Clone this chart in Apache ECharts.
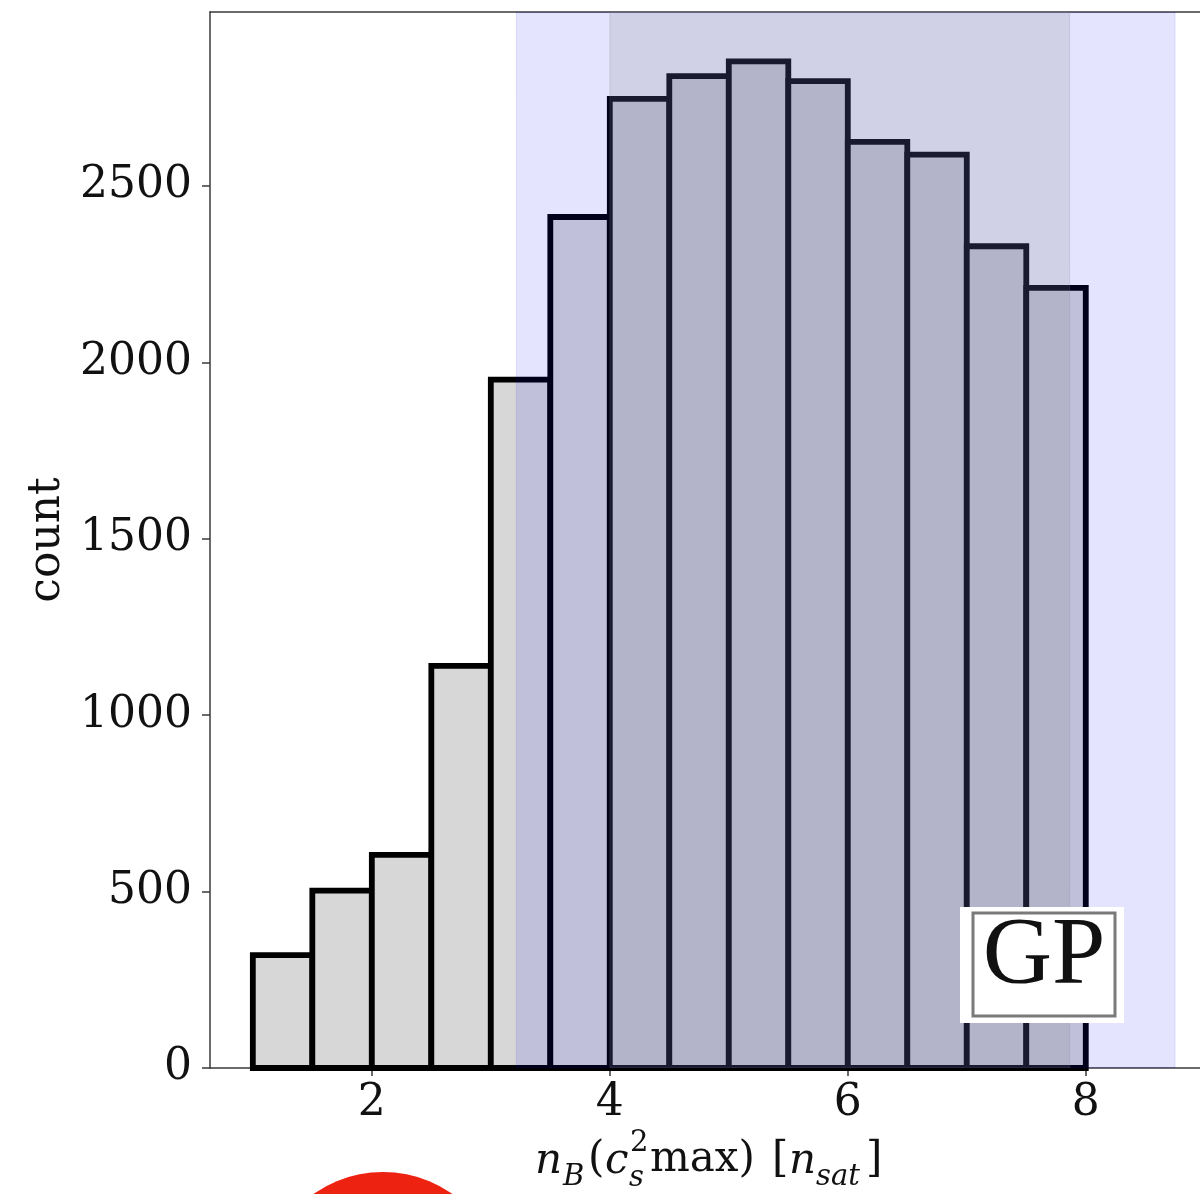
<!DOCTYPE html>
<html>
<head>
<meta charset="utf-8">
<script src="https://cdn.jsdelivr.net/npm/echarts@6/dist/echarts.min.js"></script>
<style>
  html, body { margin: 0; padding: 0; background: #ffffff; }
  #chart { width: 1200px; height: 1194px; }
</style>
</head>
<body>
<div id="chart"></div>
<script>
// Histogram of the density at which c_s^2 reaches its maximum (GP ensemble)
const binEdges = [1.0, 1.5, 2.0, 2.5, 3.0, 3.5, 4.0, 4.5, 5.0, 5.5, 6.0, 6.5, 7.0, 7.5, 8.0];
const counts = [320, 503, 604, 1140, 1951, 2412, 2747, 2811, 2853, 2797, 2625, 2589, 2329, 2211];

// credible intervals shaded over the histogram (outer and inner)
const outerBand = [3.215, 8.75];
const innerBand = [4.0, 7.865];

const xTicks = [2, 4, 6, 8];
const yTicks = [0, 500, 1000, 1500, 2000, 2500];

const xRange = [0.64, 8.96];
const yRange = [0, 2993];

const serif = 'DejaVu Serif';
const axisColor = '#3a3a3a';

const barData = counts.map((c, i) => [binEdges[i], binEdges[i + 1], c]);
const bandData = [
  [outerBand[0], outerBand[1], 'rgba(0,0,255,0.106)'],
  [innerBand[0], innerBand[1], 'rgba(128,128,132,0.2)']
];

const chart = echarts.init(document.getElementById('chart'), null, { renderer: 'canvas' });

const plainNumber = v => String(v);

function label(text, x, y, font) {
  return { type: 'text', z: 100, x: x, y: y, style: { text: text, font: font, fill: '#111', verticalAlign: 'middle' } };
}
const mainFont = '42px "DejaVu Serif"';
const mainItalic = 'italic 42px "DejaVu Serif"';
const smallFont = '29px "DejaVu Serif"';
const smallItalic = 'italic 29px "DejaVu Serif"';

const option = {
  animation: false,
  backgroundColor: '#ffffff',
  grid: { left: 210, top: 12, right: 0, bottom: 126, show: false },
  xAxis: [
    {
      type: 'value',
      min: xRange[0], max: xRange[1],
      axisLine: { show: true, onZero: false, lineStyle: { color: axisColor, width: 1.5 } },
      axisTick: { show: true, length: 8, customValues: xTicks, lineStyle: { color: axisColor, width: 1.5 } },
      axisLabel: { customValues: xTicks, formatter: plainNumber, color: '#111', fontFamily: serif, fontSize: 44, margin: 14 },
      splitLine: { show: false }
    },
    {
      // top frame line
      type: 'value',
      position: 'top',
      min: xRange[0], max: xRange[1],
      axisLine: { show: true, onZero: false, lineStyle: { color: axisColor, width: 1.5 } },
      axisTick: { show: false },
      axisLabel: { show: false },
      splitLine: { show: false }
    }
  ],
  yAxis: {
    type: 'value',
    min: yRange[0], max: yRange[1],
    name: 'count',
    nameLocation: 'middle',
    nameGap: 126,
    nameRotate: 90,
    nameTextStyle: { color: '#111', fontFamily: serif, fontSize: 44 },
    axisLine: { show: true, lineStyle: { color: axisColor, width: 1.5 } },
    axisTick: { show: true, length: 8, customValues: yTicks, lineStyle: { color: axisColor, width: 1.5 } },
    axisLabel: { customValues: yTicks, formatter: plainNumber, color: '#111', fontFamily: serif, fontSize: 44, margin: 18 },
    splitLine: { show: false }
  },
  series: [
    {
      name: 'histogram',
      type: 'custom',
      z: 2,
      encode: { x: [0, 1], y: 2 },
      data: barData,
      renderItem: function (params, api) {
        const p0 = api.coord([api.value(0), 0]);
        const p1 = api.coord([api.value(1), api.value(2)]);
        return {
          type: 'rect',
          shape: { x: p0[0], y: p1[1], width: p1[0] - p0[0], height: p0[1] - p1[1] },
          style: { fill: '#d7d7d7', stroke: '#000000', lineWidth: 5.8 }
        };
      }
    },
    {
      name: 'bands',
      type: 'custom',
      z: 5,
      silent: true,
      clip: true,
      encode: { x: [0, 1] },
      data: bandData,
      renderItem: function (params, api) {
        const cs = params.coordSys;
        const a = api.coord([api.value(0), 0]);
        const b = api.coord([api.value(1), 0]);
        const col = bandData[params.dataIndex][2];
        return {
          type: 'rect',
          shape: { x: a[0], y: cs.y, width: b[0] - a[0], height: cs.height },
          style: { fill: col, stroke: col, lineWidth: 1 }
        };
      }
    }
  ],
  graphic: [
    // x-axis title: n_B(c_s^2 max) [n_sat]
    label('n', 535, 1162, mainItalic),
    label('B', 563, 1177, smallItalic),
    label('(', 588, 1160, mainFont),
    label('c', 605, 1162, mainItalic),
    label('2', 630, 1143, smallFont),
    label('s', 629, 1178, smallItalic),
    label('max)', 650, 1160, mainFont),
    label('[', 772, 1160, mainFont),
    label('n', 789, 1162, mainItalic),
    label('sat', 816, 1177, smallItalic),
    label(']', 866, 1160, mainFont),
    // "GP" badge in the lower right of the plot
    { type: 'rect', z: 100, shape: { x: 960, y: 907, width: 164, height: 116 }, style: { fill: '#ffffff' } },
    { type: 'rect', z: 101, shape: { x: 973, y: 913, width: 142, height: 103 }, style: { fill: '#ffffff', stroke: '#7a7a7a', lineWidth: 3 } },
    { type: 'text', z: 102, x: 1044, y: 958, style: { text: 'GP', font: '96px "Liberation Serif"', fill: '#111', align: 'center', verticalAlign: 'middle' } },
    // red marker at the bottom edge
    { type: 'circle', z: 100, shape: { cx: 383, cy: 1293, r: 121 }, style: { fill: '#ee2211' } }
  ]
};

chart.setOption(option);
</script>
</body>
</html>
